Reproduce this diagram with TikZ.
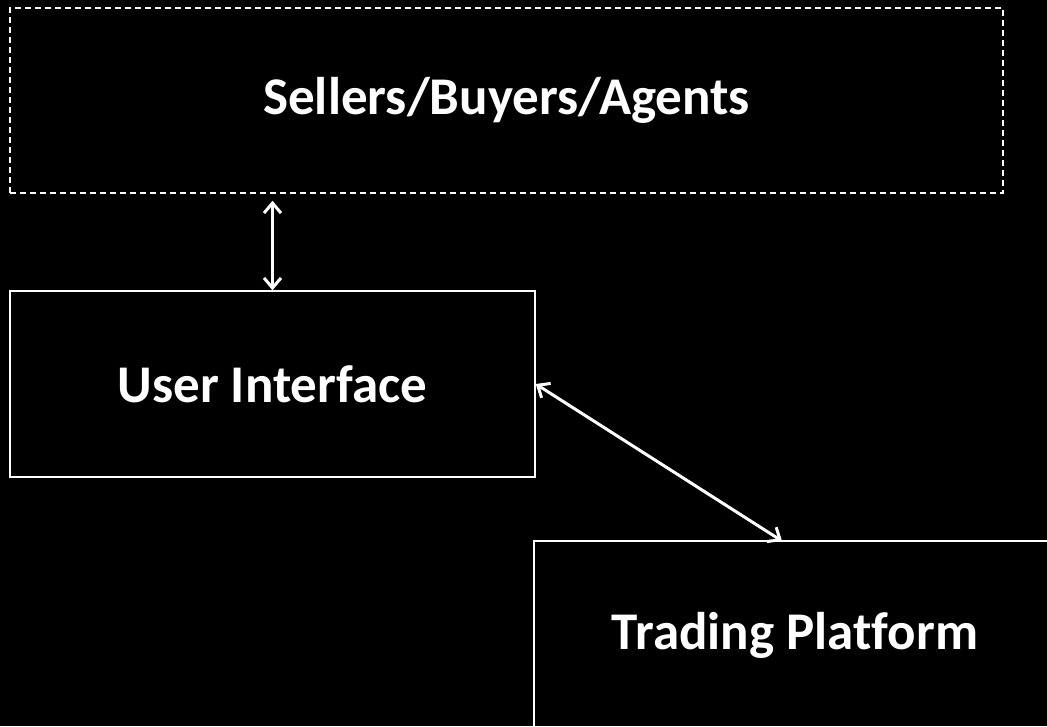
\documentclass[tikz,border=0pt]{standalone}
\usepackage{fontspec}
\setmainfont[Ligatures=NoCommon]{Carlito}
\usetikzlibrary{arrows.meta}

\begin{document}
\begin{tikzpicture}[x=1pt,y=-1pt,
	box/.style={draw=white,line width=1.5pt,minimum width=#1,text=white,font=\fontsize{53}{60}\selectfont\bfseries},
	link/.style={white,line width=3pt,{Straight Barb[length=10pt,width=17pt]}-{Straight Barb[length=10pt,width=17pt]}}]
	\useasboundingbox[fill=black] (0,0) rectangle (1047,726);
	\node[box=993pt,minimum height=185pt,dash pattern=on 6pt off 4pt] (actors) at (506.5,100.5) {Sellers/Buyers/Agents};
	\node[box=525pt,minimum height=186pt] (ui) at (272.5,384) {User Interface};
	\node[box=522pt,minimum height=188pt] (trading) at (795,635) {Trading Platform};
	\coordinate (tp) at (782,541);
	\draw[link,shorten >=7pt] (ui.north) -- (ui.north |- actors.south);
	\draw[link] (ui.east) -- (tp);
\end{tikzpicture}
\end{document}
